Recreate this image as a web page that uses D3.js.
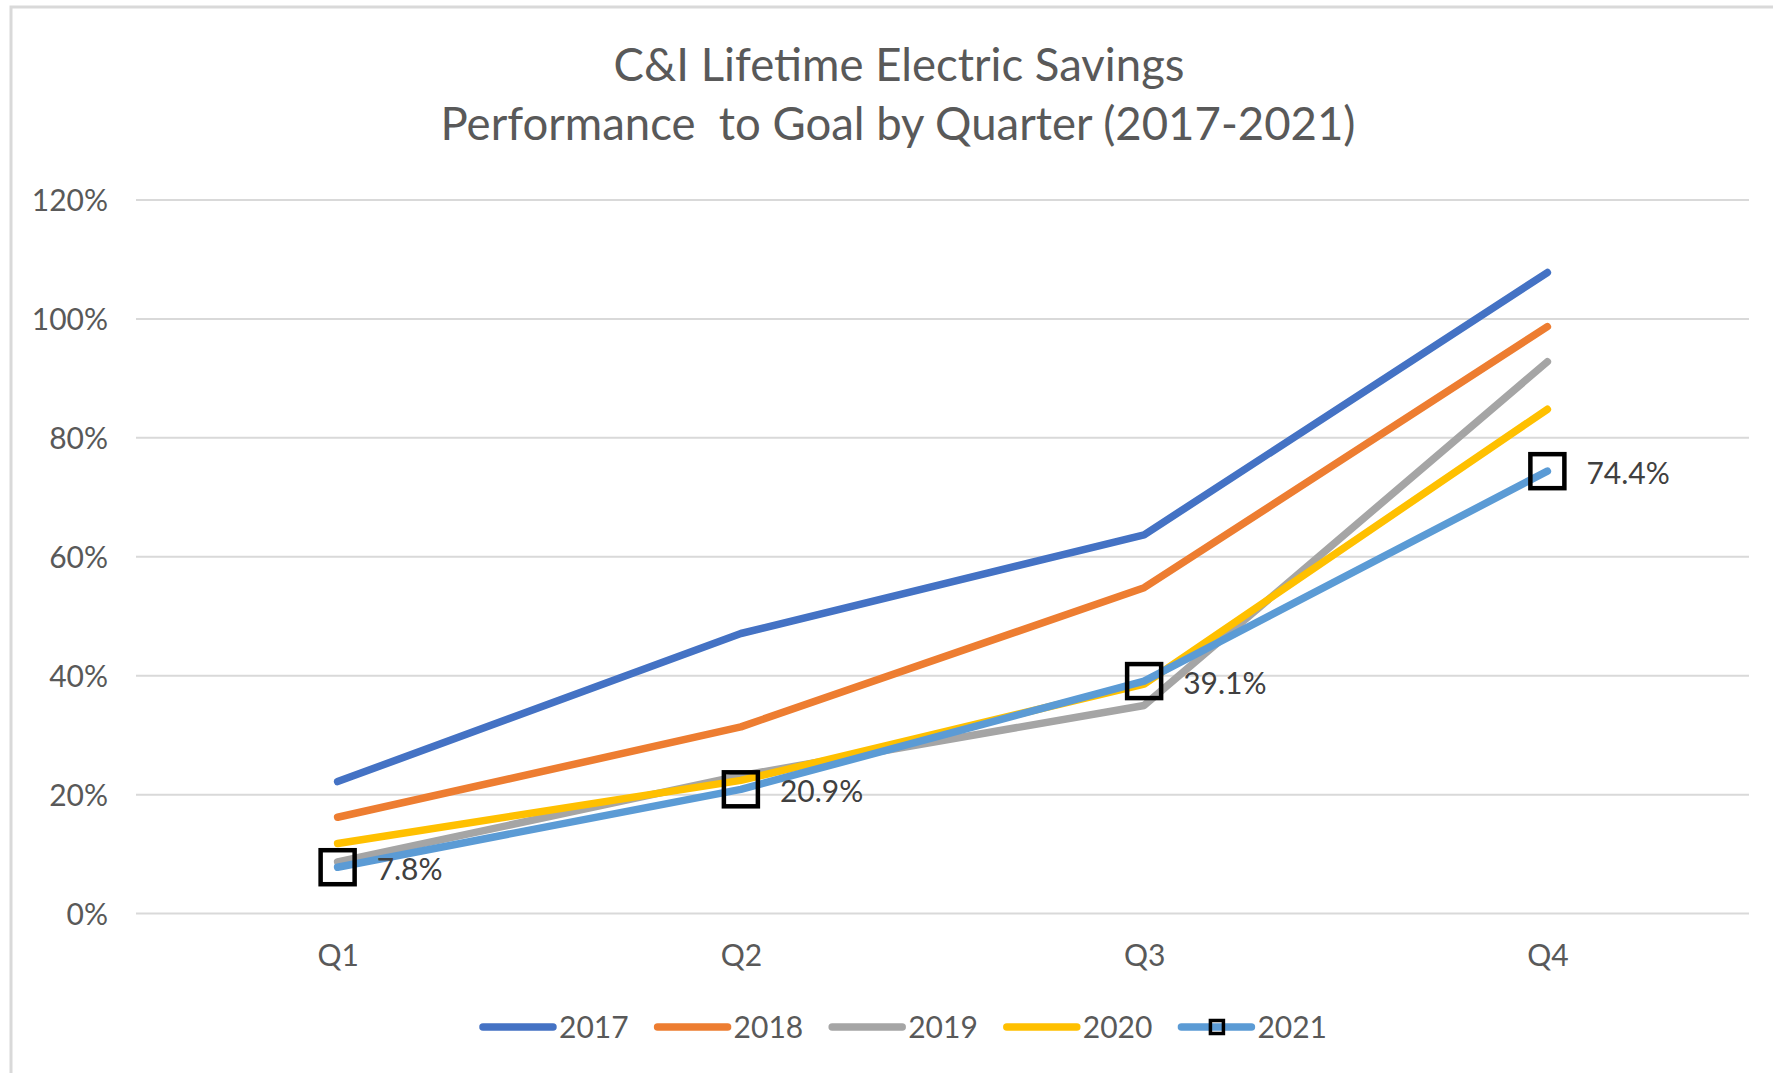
<!DOCTYPE html>
<html>
<head>
<meta charset="utf-8">
<script src="https://cdn.jsdelivr.net/npm/d3@7"></script>
<style>
  body { margin: 0; background: #fff; }
  text { font-family: Lato, "Open Sans", sans-serif; }
</style>
</head>
<body>
<script>
// chart data
var quarters = ["Q1", "Q2", "Q3", "Q4"];
var years = ["2017", "2018", "2019", "2020", "2021"];
var s2017 = [0.222, 0.471, 0.637, 1.078];
var s2018 = [0.162, 0.314, 0.548, 0.987];
var s2019 = [0.087, 0.232, 0.350, 0.928];
var s2020 = [0.118, 0.224, 0.386, 0.848];
var s2021 = [0.078, 0.209, 0.391, 0.744];
var yTicks = [0, 0.2, 0.4, 0.6, 0.8, 1.0, 1.2];
var colors = ["#4472C4", "#ED7D31", "#A5A5A5", "#FFC000", "#5B9BD5"];

var seriesList = [s2017, s2018, s2019, s2020, s2021];

var w = 1773, h = 1073;
var svg = d3.select("body").append("svg")
    .attr("width", w)
    .attr("height", h);

// chart area border
svg.append("rect")
    .attr("x", 11).attr("y", 7)
    .attr("width", w + 20).attr("height", h + 20)
    .attr("fill", "#fff")
    .attr("stroke", "#d9d9d9")
    .attr("stroke-width", 3);

// title
var title = svg.append("text")
    .attr("text-anchor", "middle")
    .attr("fill", "#595959")
    .style("font-size", "45.5px");
title.append("tspan").attr("x", 899).attr("y", 81).text("C&I Lifetime Electric Savings");
title.append("tspan").attr("x", 898).attr("y", 140).attr("xml:space", "preserve")
    .text("Performance  to Goal by Quarter (2017-2021)");

var x = d3.scalePoint()
    .domain(quarters)
    .range([136, 1749])
    .padding(0.5);

var y = d3.scaleLinear()
    .domain([0, 1.2])
    .range([913.6, 200]);

// gridlines
svg.append("g")
    .selectAll("line")
    .data(yTicks)
    .enter()
    .append("line")
    .attr("x1", 136).attr("x2", 1749)
    .attr("y1", function(d) { return y(d); })
    .attr("y2", function(d) { return y(d); })
    .attr("stroke", "#d9d9d9")
    .attr("stroke-width", 2);

// y axis
var yAxis = svg.append("g")
    .attr("transform", "translate(108,0)")
    .call(d3.axisLeft(y).tickValues(yTicks).tickSize(0).tickPadding(0)
        .tickFormat(d3.format(".0%")));
yAxis.select(".domain").remove();
yAxis.selectAll("text")
    .attr("fill", "#595959")
    .style("font-size", "30px")
    .attr("dy", "0.35em");

// x axis
var xAxis = svg.append("g")
    .attr("transform", "translate(0,913.6)")
    .call(d3.axisBottom(x).tickSize(0).tickPadding(31));
xAxis.select(".domain").remove();
xAxis.selectAll("text")
    .attr("fill", "#595959")
    .style("font-size", "30px");

// lines
var line = d3.line()
    .x(function(d, i) { return x(quarters[i]); })
    .y(function(d) { return y(d); });

svg.append("g")
    .selectAll("path")
    .data(seriesList)
    .enter()
    .append("path")
    .attr("d", line)
    .attr("fill", "none")
    .attr("stroke", function(d, i) { return colors[i]; })
    .attr("stroke-width", 7.5)
    .attr("stroke-linecap", "round")
    .attr("stroke-linejoin", "round");

// 2021 markers + labels
var mk = 34;
svg.append("g")
    .selectAll("rect")
    .data(s2021)
    .enter()
    .append("rect")
    .attr("x", function(d, i) { return x(quarters[i]) - mk / 2; })
    .attr("y", function(d) { return y(d) - mk / 2; })
    .attr("width", mk).attr("height", mk)
    .attr("fill", "none")
    .attr("stroke", "#000")
    .attr("stroke-width", 4.5);

svg.append("g")
    .selectAll("text")
    .data(s2021)
    .enter()
    .append("text")
    .attr("x", function(d, i) { return x(quarters[i]) + 39; })
    .attr("y", function(d) { return y(d) + 2; })
    .attr("dy", "0.35em")
    .attr("fill", "#404040")
    .style("font-size", "30px")
    .text(function(d) { return d3.format(".1%")(d); });

// legend
var legend = svg.append("g");
var lx = 0, gap = 29;
years.forEach(function(yr, i) {
    var g = legend.append("g").attr("transform", "translate(" + lx + ",0)");
    g.append("line")
        .attr("x1", 0).attr("x2", 70)
        .attr("y1", 0).attr("y2", 0)
        .attr("stroke", colors[i])
        .attr("stroke-width", 7.5)
        .attr("stroke-linecap", "round");
    if (i === 4) {
        g.append("rect")
            .attr("x", 29).attr("y", -6.5)
            .attr("width", 13).attr("height", 13)
            .attr("fill", "none")
            .attr("stroke", "#000")
            .attr("stroke-width", 3.5);
    }
    var t = g.append("text")
        .attr("x", 76).attr("y", 0)
        .attr("dy", "0.35em")
        .attr("fill", "#595959")
        .style("font-size", "30px")
        .text(yr);
    lx += 76 + t.node().getComputedTextLength() + gap;
});
var legW = lx - gap;
legend.attr("transform", "translate(" + (905 - legW / 2) + ",1027)");
</script>
</body>
</html>
